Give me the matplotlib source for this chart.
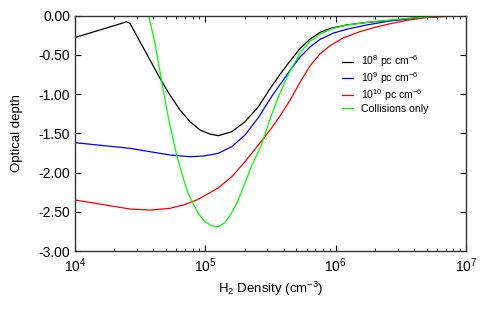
import numpy as np
import matplotlib
matplotlib.use("Agg")
import matplotlib.pyplot as plt
from matplotlib.ticker import LogLocator, FormatStrFormatter, NullFormatter

plt.rcParams["font.family"] = ["Liberation Sans", "DejaVu Sans"]
plt.rcParams["mathtext.default"] = "regular"
plt.rcParams["axes.unicode_minus"] = False

# log10 of H2 density and optical depth
log_n_1e8 = [4.00, 4.20, 4.397, 4.422, 4.499, 4.576, 4.652, 4.729, 4.806, 4.883, 4.959, 5.036,
             5.100, 5.203, 5.305, 5.407, 5.510, 5.573, 5.650, 5.727, 5.804, 5.880, 5.957,
             6.085, 6.239, 6.417, 6.60, 6.80, 7.00]
tau_1e8 = [-0.28, -0.18, -0.08, -0.10, -0.334, -0.567, -0.80, -1.013, -1.204, -1.353, -1.459, -1.51,
           -1.531, -1.48, -1.353, -1.162, -0.90, -0.75, -0.58, -0.42, -0.30, -0.215, -0.165,
           -0.12, -0.088, -0.062, -0.035, -0.012, 0.0]

log_n_1e9 = [4.00, 4.422, 4.576, 4.729, 4.883, 4.985, 5.036, 5.100, 5.203, 5.305, 5.407, 5.510,
             5.573, 5.650, 5.727, 5.804, 5.880, 5.982, 6.085, 6.239, 6.417, 6.60, 6.80, 7.00]
tau_1e9 = [-1.62, -1.692, -1.735, -1.777, -1.799, -1.79, -1.775, -1.755, -1.671, -1.522, -1.30, -1.03,
           -0.88, -0.70, -0.53, -0.40, -0.305, -0.225, -0.175, -0.12, -0.07, -0.035, -0.01, 0.0]

log_n_1e10 = [4.00, 4.422, 4.576, 4.729, 4.831, 4.934, 5.036, 5.100, 5.203, 5.305, 5.407, 5.510,
              5.573, 5.650, 5.727, 5.804, 5.880, 5.957, 6.059, 6.187, 6.315, 6.417, 6.55, 6.70, 7.00]
tau_1e10 = [-2.35, -2.465, -2.478, -2.456, -2.414, -2.35, -2.257, -2.195, -2.054, -1.862, -1.65, -1.43,
            -1.28, -1.08, -0.85, -0.64, -0.49, -0.385, -0.285, -0.205, -0.145, -0.105, -0.06, -0.025, 0.0]

log_n_coll = [4.52, 4.567, 4.614, 4.67, 4.72, 4.78, 4.83, 4.865, 4.905, 4.95, 5.00, 5.05, 5.10,
              5.15, 5.20, 5.25, 5.30, 5.36, 5.425, 5.47, 5.51, 5.56, 5.61, 5.65, 5.73, 5.80,
              5.88, 5.98, 6.085, 6.24, 6.42, 6.60, 6.80, 7.00]
tau_coll = [0.30, -0.015, -0.354, -0.885, -1.33, -1.777, -2.07, -2.25, -2.39, -2.53, -2.63, -2.68, -2.69,
            -2.64, -2.52, -2.36, -2.15, -1.90, -1.67, -1.45, -1.26, -1.04, -0.85, -0.71, -0.47, -0.335,
            -0.235, -0.165, -0.122, -0.088, -0.058, -0.03, -0.01, 0.0]

fig = plt.figure(figsize=(4.91, 3.09), dpi=100)
ax = fig.add_axes([0.1527, 0.1877, 0.7963, 0.7621])

ax.plot(10 ** np.array(log_n_1e8), tau_1e8, color="black", lw=0.9, label=r"10$^{8}$ pc cm$^{-6}$")
ax.plot(10 ** np.array(log_n_1e9), tau_1e9, color="#0000ff", lw=0.9, label=r"10$^{9}$ pc cm$^{-6}$")
ax.plot(10 ** np.array(log_n_1e10), tau_1e10, color="#ff0000", lw=0.9, label=r"10$^{10}$ pc cm$^{-6}$")
ax.plot(10 ** np.array(log_n_coll), tau_coll, color="#00ff00", lw=0.9, label="Collisions only")

ax.set_xscale("log")
ax.set_xlim(1e4, 1e7)
ax.set_ylim(-3.0, 0.0)
ax.set_yticks(np.arange(-3.0, 0.01, 0.5))
ax.yaxis.set_major_formatter(FormatStrFormatter("%.2f"))
ax.xaxis.set_major_locator(LogLocator(base=10, numticks=10))
ax.xaxis.set_minor_locator(LogLocator(base=10, subs=np.arange(2, 10), numticks=10))
ax.xaxis.set_minor_formatter(NullFormatter())

ax.tick_params(which="both", direction="in", top=True, right=True, labelsize=10)
ax.tick_params(which="major", length=4, width=0.8)
ax.tick_params(which="minor", length=2, width=0.6)
ax.tick_params(axis="x", pad=4)
for s in ax.spines.values():
    s.set_color("#333333")
    s.set_linewidth(1.0)

ax.set_xlabel(r"H$_2$ Density (cm$^{-3}$)", fontsize=9.5, labelpad=3)
ax.set_ylabel("Optical depth", fontsize=9.5, labelpad=11)

ax.legend(loc="upper left", bbox_to_anchor=(0.665, 0.87), frameon=False, fontsize=7.6,
          handlelength=1.0, handletextpad=0.8, labelspacing=0.1, borderpad=0.2)

fig.savefig("out.png", dpi=100)
